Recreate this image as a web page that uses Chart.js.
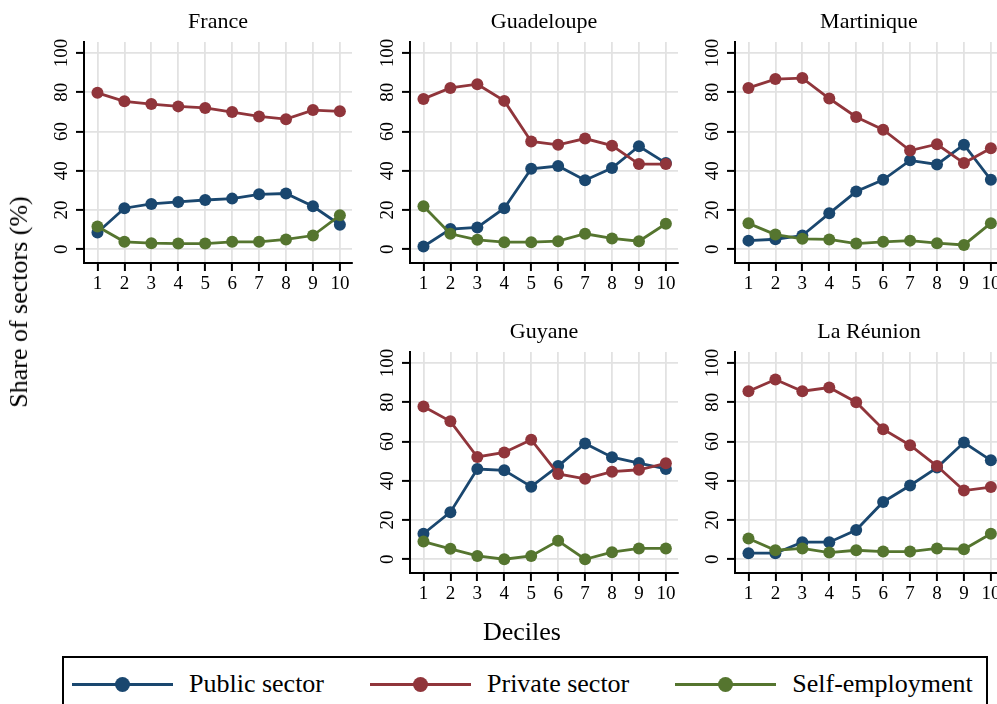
<!DOCTYPE html>
<html>
<head>
<meta charset="utf-8">
<script src="https://cdn.jsdelivr.net/npm/chart.js@4.4.1/dist/chart.umd.min.js"></script>
<style>
  body { margin: 0; width: 997px; height: 704px; overflow: hidden; background: #fff; position: relative;
         font-family: "Liberation Serif", "DejaVu Serif", serif; color: #000; }
  canvas { position: absolute; }
  .ytitle { position: absolute; left: 19px; top: 302px; font-size: 26px; white-space: nowrap;
            transform: translate(-50%, -50%) rotate(-90deg); }
  .xtitle { position: absolute; left: 522px; top: 632px; font-size: 26px; transform: translate(-50%, -50%); }
  #legend { position: absolute; left: 62px; top: 656px; width: 926px; height: 62px; box-sizing: border-box;
            border: 2px solid #000; display: flex; align-items: flex-start; padding: 10px 0 0 8px; }
  .item { flex: none; display: flex; align-items: center; margin-right: 46px; font-size: 26px;
          line-height: 32px; white-space: nowrap; }
  .mark { position: relative; flex: none; width: 101px; height: 3px; margin-right: 16px; }
  .mark i { position: absolute; left: 43px; top: -6px; width: 15px; height: 15px; border-radius: 50%; }
</style>
</head>
<body>
<canvas id="france" width="362" height="303" style="left:0px;top:0px"></canvas>
<canvas id="guadeloupe" width="362" height="303" style="left:326px;top:0px"></canvas>
<canvas id="martinique" width="362" height="303" style="left:651px;top:0px"></canvas>
<canvas id="guyane" width="362" height="303" style="left:326px;top:310px"></canvas>
<canvas id="reunion" width="362" height="303" style="left:651px;top:310px"></canvas>
<div class="ytitle">Share of sectors (%)</div>
<div class="xtitle">Deciles</div>
<div id="legend"></div>
<script>
// Income deciles on the x axis, shares in percent on the y axis
const deciles = [1, 2, 3, 4, 5, 6, 7, 8, 9, 10];
const yTicks = [0, 20, 40, 60, 80, 100];
const seriesNames = ['Public sector', 'Private sector', 'Self-employment'];
const seriesColors = ['#1a476f', '#90353b', '#55752f'];

const francePublic = [8.5, 20.9, 23.1, 24.1, 25.1, 25.8, 28.0, 28.4, 21.9, 12.5];
const francePrivate = [79.7, 75.4, 74.0, 72.8, 72.0, 69.9, 67.7, 66.3, 70.9, 70.3];
const franceSelf = [11.6, 3.8, 3.1, 2.9, 2.9, 3.8, 3.8, 5.0, 7.0, 17.3];

const guadeloupePublic = [1.4, 10.3, 11.1, 20.9, 41.0, 42.4, 35.2, 41.4, 52.5, 43.9];
const guadeloupePrivate = [76.6, 82.2, 84.1, 75.6, 54.9, 53.2, 56.4, 52.8, 43.4, 43.4];
const guadeloupeSelf = [21.9, 7.9, 4.8, 3.6, 3.6, 4.1, 7.9, 5.5, 4.1, 13.0];

const martiniquePublic = [4.4, 5.1, 7.0, 18.3, 29.4, 35.4, 45.3, 43.2, 53.3, 35.4];
const martiniquePrivate = [82.2, 86.7, 87.2, 76.8, 67.4, 60.9, 50.3, 53.5, 43.9, 51.5];
const martiniqueSelf = [13.2, 7.5, 5.3, 5.0, 2.9, 3.8, 4.4, 3.1, 2.2, 13.3];

const guyanePublic = [13.0, 24.0, 46.0, 45.3, 37.0, 47.5, 59.0, 52.0, 49.0, 46.0];
const guyanePrivate = [77.8, 70.3, 52.1, 54.4, 60.9, 43.5, 41.0, 44.6, 45.6, 48.9];
const guyaneSelf = [9.0, 5.3, 1.7, 0.0, 1.7, 9.4, 0.0, 3.6, 5.5, 5.5];

const reunionPublic = [3.1, 3.1, 8.7, 8.7, 14.9, 29.2, 37.6, 46.7, 59.5, 50.4];
const reunionPrivate = [85.6, 91.6, 85.6, 87.5, 80.0, 66.3, 58.1, 47.5, 35.0, 36.8];
const reunionSelf = [10.6, 4.6, 5.5, 3.4, 4.6, 3.9, 3.9, 5.5, 5.1, 13.0];

Chart.defaults.font.family = '"Liberation Serif", "DejaVu Serif", serif';
Chart.defaults.color = '#000';

function makeDataset(idx, values) {
  return {
    label: seriesNames[idx],
    data: deciles.map((d, i) => ({ x: d, y: values[i] })),
    borderColor: seriesColors[idx],
    backgroundColor: seriesColors[idx],
    borderWidth: 2.8,
    pointRadius: 6,
    pointHoverRadius: 6,
    pointBorderWidth: 0,
    tension: 0,
    order: 2 - idx // self-employment drawn on top
  };
}

const gridOpts = { color: '#e2e2e2', lineWidth: 1.8, tickLength: 8, tickColor: '#000', tickWidth: 2 };

function createPanel(canvasId, title, pub, priv, self) {
  const ctx = document.getElementById(canvasId);
  if (!ctx) return;
  new Chart(ctx, {
    type: 'line',
    data: { datasets: [makeDataset(0, pub), makeDataset(1, priv), makeDataset(2, self)] },
    options: {
      responsive: false,
      animation: false,
      events: [],
      layout: { padding: { left: 0, right: 10, top: 0, bottom: 0 } },
      plugins: {
        legend: { display: false },
        tooltip: { enabled: false },
        title: {
          display: true,
          text: title,
          fullSize: false,
          color: '#000',
          font: { size: 22, weight: 'normal' },
          padding: { top: 9, bottom: 6.6 }
        }
      },
      scales: {
        x: {
          type: 'linear',
          min: 0.5,
          max: 10.45,
          afterBuildTicks: s => { s.ticks = deciles.map(v => ({ value: v })); },
          afterFit: s => { s.height = 40; },
          grid: gridOpts,
          border: { color: '#000', width: 2 },
          ticks: { color: '#000', font: { size: 19 }, padding: 2, maxRotation: 0, autoSkip: false }
        },
        y: {
          min: -7,
          max: 105.6,
          afterBuildTicks: s => { s.ticks = yTicks.map(v => ({ value: v })); },
          afterFit: s => { s.width = 84; },
          grid: gridOpts,
          border: { color: '#000', width: 2 },
          ticks: { color: '#000', font: { size: 19 }, padding: 0, minRotation: 90, maxRotation: 90, crossAlign: 'center' }
        }
      }
    }
  });
}

createPanel('france', 'France', francePublic, francePrivate, franceSelf);
createPanel('guadeloupe', 'Guadeloupe', guadeloupePublic, guadeloupePrivate, guadeloupeSelf);
createPanel('martinique', 'Martinique', martiniquePublic, martiniquePrivate, martiniqueSelf);
createPanel('guyane', 'Guyane', guyanePublic, guyanePrivate, guyaneSelf);
createPanel('reunion', 'La Réunion', reunionPublic, reunionPrivate, reunionSelf);

// Shared legend below the panels
const legend = document.getElementById('legend');
seriesNames.forEach((name, i) => {
  const item = document.createElement('div');
  item.className = 'item';
  item.innerHTML = `<span class="mark" style="background:${seriesColors[i]}"><i style="background:${seriesColors[i]}"></i></span>${name}`;
  legend.appendChild(item);
});
</script>
</body>
</html>
